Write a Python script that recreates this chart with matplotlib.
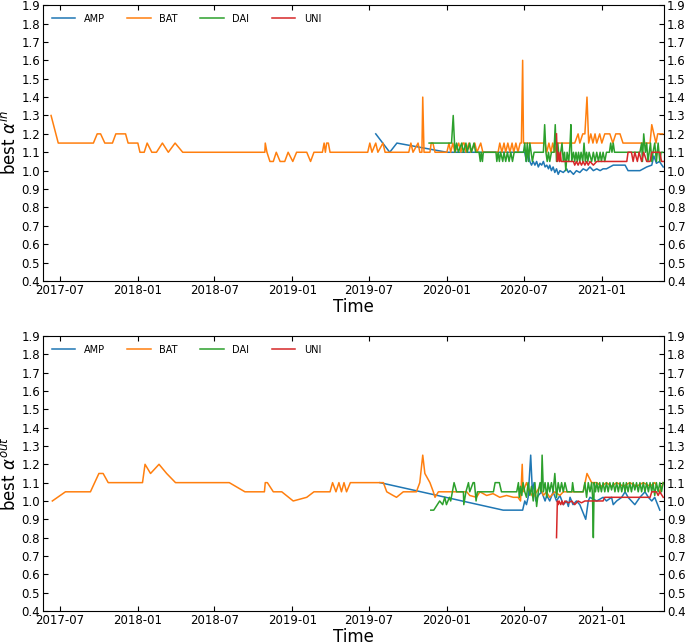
import numpy as np
import matplotlib
matplotlib.use("Agg")
import matplotlib.pyplot as plt
import matplotlib.dates as mdates

# Time is stored as day offsets from this base date
base_date = "2017-07-01"

# ---------------- top panel: best alpha^in ----------------
in_amp_days = [746, 779, 796, 914, 1098, 1102, 1106, 1110, 1114, 1118, 1122, 1126, 1130,
               1134, 1138, 1142, 1146, 1150, 1154, 1157, 1161, 1165, 1169, 1173, 1177, 1181,
               1189, 1197, 1201, 1205, 1213, 1220, 1228, 1236, 1244, 1252, 1260, 1268, 1276,
               1283, 1291, 1299, 1307, 1315, 1323, 1335, 1342, 1370, 1386, 1398, 1403, 1409,
               1416, 1425]
in_amp_vals = [1.2, 1.1, 1.15, 1.1, 1.1, 1.05, 1.1, 1.05, 1.03, 1.05, 1.03, 1.05, 1.02,
               1.04, 1.03, 1.05, 1.02, 1.03, 1.01, 1.03, 1.0, 1.02, 0.99, 1.01, 0.98, 1.0,
               0.99, 1.01, 0.99, 1.0, 0.98, 1.0, 0.99, 1.01, 1.0, 1.02, 1.0, 1.01, 1.0,
               1.01, 1.01, 1.02, 1.03, 1.03, 1.03, 1.03, 1.0, 1.0, 1.02, 1.03, 1.08, 1.04,
               1.05, 1.02]

in_bat_days = [-21, -4, 79, 88, 96, 106, 124, 132, 155, 161,
               184, 189, 199, 206, 217, 228, 242, 256, 272, 290,
               484, 485, 489, 496, 504, 511, 520, 531, 539, 550,
               559, 583, 592, 600, 620, 624, 627, 630, 634, 638,
               727, 732, 737, 746, 751, 763, 768, 824, 829, 834,
               846, 850, 855, 857, 860, 874, 877, 881, 886, 914,
               919, 923, 928, 933, 942, 947, 952, 955, 959, 966,
               971, 980, 985, 994, 999, 1035, 1039, 1044, 1049, 1053,
               1058, 1063, 1068, 1072, 1077, 1082, 1087, 1090, 1093, 1095,
               1146, 1150, 1155, 1160, 1164, 1169, 1174, 1216, 1224, 1228,
               1235, 1240, 1245, 1249, 1254, 1259, 1264, 1268, 1275, 1280,
               1287, 1299, 1306, 1313, 1323, 1330, 1337, 1394, 1398, 1403,
               1408, 1412, 1424]
in_bat_vals = [1.3, 1.15, 1.15, 1.2, 1.2, 1.15, 1.15, 1.2, 1.2, 1.15,
               1.15, 1.1, 1.1, 1.15, 1.1, 1.1, 1.15, 1.1, 1.15, 1.1,
               1.1, 1.15, 1.1, 1.05, 1.05, 1.1, 1.05, 1.05, 1.1, 1.05,
               1.1, 1.1, 1.05, 1.1, 1.1, 1.15, 1.1, 1.15, 1.15, 1.1,
               1.1, 1.15, 1.1, 1.15, 1.1, 1.15, 1.1, 1.1, 1.15, 1.1,
               1.15, 1.1, 1.1, 1.4, 1.1, 1.1, 1.15, 1.15, 1.1, 1.1,
               1.15, 1.1, 1.15, 1.1, 1.15, 1.1, 1.15, 1.15, 1.1, 1.15,
               1.1, 1.15, 1.1, 1.15, 1.1, 1.1, 1.15, 1.1, 1.15, 1.1,
               1.15, 1.1, 1.15, 1.1, 1.15, 1.1, 1.15, 1.15, 1.6, 1.15,
               1.15, 1.1, 1.15, 1.1, 1.15, 1.1, 1.15, 1.15, 1.2, 1.15,
               1.2, 1.2, 1.4, 1.15, 1.2, 1.15, 1.2, 1.15, 1.2, 1.15,
               1.2, 1.2, 1.15, 1.2, 1.2, 1.15, 1.15, 1.15, 1.25, 1.2,
               1.15, 1.2, 1.2]

in_dai_days = [872, 925, 929, 933, 937, 941, 949, 953, 959, 962,
               968, 972, 978, 982, 990, 993, 995, 998, 1000, 1030,
               1032, 1035, 1038, 1041, 1046, 1049, 1053, 1057, 1061, 1065,
               1069, 1073, 1077, 1095, 1098, 1101, 1104, 1107, 1110, 1113,
               1116, 1120, 1142, 1145, 1148, 1151, 1154, 1157, 1161, 1167,
               1170, 1173, 1176, 1180, 1183, 1186, 1189, 1192, 1195, 1198,
               1202, 1205, 1207, 1209, 1213, 1216, 1219, 1222, 1225, 1228,
               1231, 1235, 1238, 1241, 1244, 1247, 1250, 1256, 1260, 1264,
               1268, 1272, 1276, 1279, 1283, 1287, 1291, 1298, 1301, 1304,
               1307, 1310, 1370, 1374, 1376, 1379, 1383, 1386, 1389, 1392,
               1395, 1398, 1401, 1405, 1409, 1413, 1417, 1420, 1424]
in_dai_vals = [1.15, 1.15, 1.3, 1.1, 1.15, 1.1, 1.15, 1.1, 1.15, 1.1,
               1.15, 1.1, 1.15, 1.1, 1.1, 1.05, 1.1, 1.05, 1.1, 1.1,
               1.05, 1.1, 1.05, 1.1, 1.05, 1.1, 1.05, 1.1, 1.05, 1.1,
               1.05, 1.1, 1.1, 1.1, 1.15, 1.05, 1.15, 1.05, 1.15, 1.1,
               1.05, 1.1, 1.1, 1.25, 1.1, 1.05, 1.1, 1.05, 1.1, 1.1,
               1.25, 1.05, 1.15, 1.05, 1.1, 1.15, 1.05, 1.1, 1.0, 1.1,
               1.05, 1.15, 1.25, 1.05, 1.1, 1.05, 1.1, 1.05, 1.1, 1.05,
               1.1, 1.05, 1.15, 1.05, 1.1, 1.05, 1.1, 1.05, 1.1, 1.05,
               1.1, 1.05, 1.1, 1.05, 1.1, 1.05, 1.1, 1.1, 1.15, 1.1,
               1.15, 1.1, 1.1, 1.15, 1.05, 1.2, 1.1, 1.15, 1.05, 1.1,
               1.15, 1.05, 1.1, 1.15, 1.05, 1.15, 1.05, 1.1, 1.1]

in_uni_days = [1173, 1175, 1177, 1180, 1182, 1184,
               1213, 1216, 1220, 1224, 1228, 1232, 1236, 1240, 1244, 1248, 1252, 1260, 1268,
               1339, 1342, 1350, 1354, 1358, 1364, 1368, 1374, 1379, 1386, 1394, 1398, 1417,
               1421, 1425]
in_uni_vals = [1.2, 1.05, 1.1, 1.05, 1.1, 1.05,
               1.05, 1.03, 1.05, 1.03, 1.05, 1.03, 1.05, 1.03, 1.05, 1.03, 1.05, 1.03, 1.05,
               1.05, 1.1, 1.1, 1.05, 1.1, 1.05, 1.1, 1.05, 1.1, 1.05, 1.05, 1.1, 1.1,
               1.05, 1.05]

# ---------------- bottom panel: best alpha^out ----------------
out_amp_days = [756, 1047, 1093, 1098, 1102, 1106, 1112, 1116, 1120, 1124,
                1130, 1138, 1146, 1150, 1157, 1165, 1173, 1181, 1189, 1197,
                1201, 1205, 1212, 1220, 1228, 1242, 1248, 1252, 1268, 1283,
                1291, 1303, 1307, 1315, 1327, 1335, 1342, 1358, 1370, 1382,
                1390, 1398, 1405, 1417]
out_amp_vals = [1.1, 0.95, 0.95, 1.0, 0.98, 1.02, 1.25, 1.05, 1.1, 1.0,
                1.03, 1.05, 1.0, 1.03, 1.0, 1.05, 1.0, 1.03, 0.98, 1.0,
                0.97, 1.02, 0.98, 1.0, 0.98, 0.9, 1.0, 1.02, 1.0, 1.02,
                1.0, 1.02, 0.98, 1.0, 1.02, 1.05, 1.02, 0.98, 1.02, 1.05,
                1.02, 1.0, 1.02, 0.95]

out_bat_days = [-18, 13, 72, 92, 102, 114,
                195, 201, 214, 234, 252, 273,
                400, 437, 483, 485, 490, 504, 524, 551, 583, 600,
                638, 644, 652, 659, 665, 671, 677, 686,
                764, 772, 787, 795, 811, 842, 850, 857, 862, 874, 882, 886, 894,
                961, 968, 984, 992, 1008, 1023, 1039, 1055, 1071, 1082, 1088, 1092, 1094,
                1102, 1110, 1118, 1126, 1134, 1142, 1149, 1157, 1169, 1181, 1189,
                1236, 1245, 1256, 1268, 1279, 1291, 1303, 1315, 1331, 1346, 1362, 1378,
                1394, 1405, 1417, 1425]
out_bat_vals = [1.0, 1.05, 1.05, 1.15, 1.15, 1.1,
                1.1, 1.2, 1.15, 1.2, 1.15, 1.1,
                1.1, 1.05, 1.05, 1.1, 1.1, 1.05, 1.05, 1.0, 1.02, 1.05,
                1.05, 1.1, 1.05, 1.1, 1.05, 1.1, 1.05, 1.1,
                1.1, 1.05, 1.03, 1.02, 1.05, 1.05, 1.1, 1.25, 1.15, 1.1, 1.05, 1.02, 1.05,
                1.05, 1.03, 1.02, 1.05, 1.03, 1.04, 1.02, 1.03, 1.02, 1.02, 1.0, 1.2, 1.05,
                1.1, 1.05, 1.02, 1.05, 1.08, 1.03, 1.05, 1.02, 1.05, 1.03, 1.05,
                1.05, 1.15, 1.1, 1.1, 1.08, 1.1, 1.08, 1.1, 1.08, 1.1, 1.08, 1.1,
                1.08, 1.1, 1.05, 1.1]

out_dai_days = [876, 883, 897, 904, 909, 913, 920, 923, 931, 937,
                953, 954, 959, 965, 968, 976, 979, 981, 983, 986,
                1024, 1028, 1038, 1043, 1079, 1083, 1085, 1088, 1091, 1094,
                1098, 1102, 1106, 1110, 1114, 1118, 1122, 1126, 1130, 1134,
                1137, 1139, 1142, 1146, 1150, 1153, 1157, 1161, 1165, 1169,
                1173, 1177, 1181, 1185, 1189, 1193, 1198, 1209, 1211, 1214,
                1236, 1240, 1244, 1248, 1252, 1256, 1258, 1260, 1262, 1265,
                1268, 1272, 1275, 1279, 1283, 1287, 1291, 1295, 1299, 1303,
                1307, 1311, 1315, 1319, 1323, 1327, 1331, 1335, 1338, 1342,
                1346, 1350, 1354, 1358, 1362, 1366, 1370, 1374, 1378, 1382,
                1386, 1390, 1394, 1398, 1401, 1405, 1409, 1413, 1417, 1421,
                1425]
out_dai_vals = [0.95, 0.95, 1.0, 0.98, 1.02, 0.98, 1.02, 1.0, 1.1, 1.05,
                1.05, 0.98, 1.05, 1.1, 1.05, 1.1, 1.1, 1.05, 1.0, 1.05,
                1.05, 1.1, 1.1, 1.05, 1.05, 1.1, 1.02, 1.08, 1.03, 1.1,
                1.05, 1.02, 1.1, 1.03, 1.08, 1.0, 1.1, 0.97, 1.05, 1.1,
                1.05, 1.25, 1.05, 1.1, 1.02, 1.1, 1.05, 1.1, 1.05, 1.15,
                1.02, 1.1, 1.05, 1.1, 1.05, 1.1, 1.05, 1.05, 1.1, 1.05,
                1.05, 1.1, 1.02, 1.1, 1.05, 1.1, 1.03, 0.8, 1.1, 1.05,
                1.1, 1.05, 1.1, 1.05, 1.1, 1.05, 1.1, 1.05, 1.1, 1.06,
                1.1, 1.05, 1.1, 1.05, 1.1, 1.05, 1.1, 1.05, 1.1, 1.05,
                1.1, 1.05, 1.1, 1.06, 1.1, 1.05, 1.1, 1.05, 1.1, 1.05,
                1.1, 1.05, 1.1, 1.05, 1.1, 1.03, 1.1, 1.05, 1.1, 1.05,
                1.1]

out_uni_days = [1173, 1175, 1177, 1179, 1183, 1186, 1189, 1193, 1201, 1209, 1216, 1224,
                1232, 1240, 1260, 1283, 1287, 1394, 1398, 1409, 1413, 1417, 1425]
out_uni_vals = [0.8, 1.0, 0.98, 1.0, 0.98, 1.0, 0.98, 1.0, 0.99, 1.0, 0.98, 1.0,
                0.99, 1.0, 1.0, 1.0, 1.02, 1.02, 1.05, 1.05, 1.03, 1.05, 1.02]

series_names = ["AMP", "BAT", "DAI", "UNI"]
y_ticks = [0.4, 0.5, 0.6, 0.7, 0.8, 0.9, 1.0, 1.1, 1.2, 1.3, 1.4, 1.5, 1.6, 1.7, 1.8, 1.9]
x_limits = ["2017-05-22", "2021-05-28"]

colors = ["#1f77b4", "#ff7f0e", "#2ca02c", "#d62728"]


def to_dates(days):
    return np.datetime64(base_date) + np.array(days).astype("timedelta64[D]")


fig = plt.figure(figsize=(6.85, 6.43), dpi=100)
ax1 = fig.add_axes([0.0628, 0.563, 0.9066, 0.429])
ax2 = fig.add_axes([0.0628, 0.0498, 0.9066, 0.4277])

panels = [
    (ax1, [(in_amp_days, in_amp_vals), (in_bat_days, in_bat_vals),
           (in_dai_days, in_dai_vals), (in_uni_days, in_uni_vals)],
     r"best $\alpha^{in}$"),
    (ax2, [(out_amp_days, out_amp_vals), (out_bat_days, out_bat_vals),
           (out_dai_days, out_dai_vals), (out_uni_days, out_uni_vals)],
     r"best $\alpha^{out}$"),
]

for ax, data, ylab in panels:
    for (d, v), name, c in zip(data, series_names, colors):
        ax.plot(to_dates(d), v, color=c, lw=1.1, label=name)
    ax.set_ylim(0.4, 1.9)
    ax.set_yticks(y_ticks)
    ax.set_yticklabels([f"{t:.1f}" for t in y_ticks])
    ax.set_xlim(np.datetime64(x_limits[0]), np.datetime64(x_limits[1]))
    ax.xaxis.set_major_locator(mdates.MonthLocator(bymonth=[1, 7]))
    ax.xaxis.set_major_formatter(mdates.DateFormatter("%Y-%m"))
    ax.tick_params(axis="both", which="both", direction="in", labelsize=8.5,
                   top=True, right=True, labelright=True, length=3.5, pad=2)
    ax.set_xlabel("Time", fontsize=12, labelpad=1)
    ax.set_ylabel(ylab, fontsize=12, labelpad=1)
    ax.legend(loc="upper left", ncol=4, frameon=False, fontsize=7,
              handlelength=2.4, handletextpad=0.9, columnspacing=2.3,
              borderaxespad=0.5)

fig.savefig("out.png", dpi=100)
